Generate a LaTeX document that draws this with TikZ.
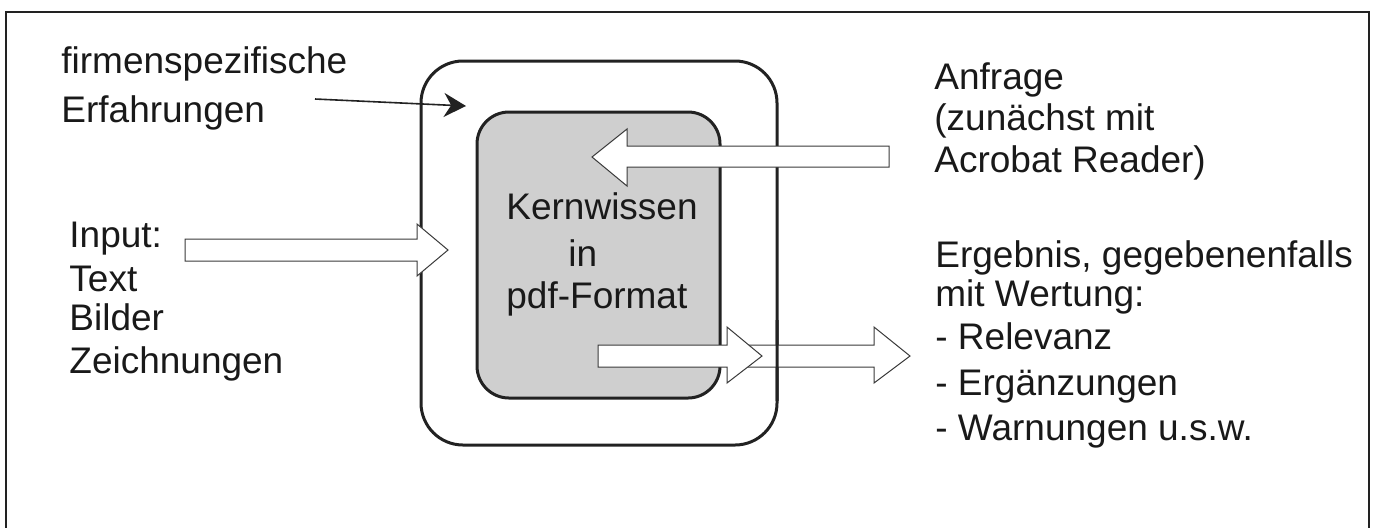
\documentclass[tikz,border=0pt]{standalone}
\usepackage{fontspec}
\setmainfont{Liberation Sans}
\usetikzlibrary{arrows.meta}
\definecolor{framegray}{HTML}{222222}
\definecolor{kerngray}{HTML}{CFCFCF}
\definecolor{arrowline}{HTML}{3A3A3A}
\begin{document}
\begin{tikzpicture}[x=0.5pt,y=-0.5pt,
  lbl/.style={anchor=base west,inner sep=0pt,font=\fontsize{18.5pt}{21pt}\selectfont,text=black!90},
  boxline/.style={line width=1.5pt,draw=framegray},
  blockarrow/.style={fill=white,draw=arrowline,line width=0.5pt,line join=miter},
  pointer/.style={line width=0.8pt,draw=framegray,-{Stealth[length=11pt,width=12pt]}}
]
\useasboundingbox (0,0) rectangle (1374,527);
% outer frame (bottom edge outside the picture)
\draw[line width=1.2pt,draw=framegray] (6,540) -- (6,12) -- (1369,12) -- (1369,540);

% outer rounded box
\path[boxline,fill=white,rounded corners=21pt] (421,61) rectangle (777,445);
% inner grey box
\path[boxline,fill=kerngray,rounded corners=16pt] (477,112) rectangle (720,398);

% Anfrage arrow (pointing left)
\coordinate (aq) at (889,146);
\draw[blockarrow] (889,146) -- (627,146) -- (627,129) -- (592,157) -- (627,186) -- (627,167) -- (889,167) -- cycle;

% Input arrow
\draw[blockarrow] (185,239) -- (417,239) -- (417,224) -- (448,250) -- (417,276) -- (417,261) -- (185,261) -- cycle;

% output arrow 2 (behind)
\draw[blockarrow] (740,345) -- (874,345) -- (874,327) -- (910,356) -- (874,383) -- (874,367) -- (740,367) -- cycle;
% outer box line passing over arrow 2
\begin{scope}
\clip (765,320) rectangle (800,400);
\path[boxline,rounded corners=21pt] (421,61) rectangle (777,445);
\end{scope}
% output arrow 1 (front)
\draw[blockarrow] (598,345) -- (727,345) -- (727,327) -- (762,356) -- (727,383) -- (727,367) -- (598,367) -- cycle;

% pointer arrow
\coordinate (ps) at (315,99);
\coordinate (pe) at (466,106);
\draw[pointer] (ps) -- (pe);

% texts
\node[lbl] (t1) at (61,73) {firmenspezifische};
\node[lbl] (t2) at (61,122) {Erfahrungen};

\node[lbl] (i1) at (69,247) {Input:};
\node[lbl] (i2) at (69,291) {Text};
\node[lbl] (i3) at (69,330) {Bilder};
\node[lbl] (i4) at (69,373) {Zeichnungen};

\node[lbl] (a1) at (934,89) {Anfrage};
\node[lbl] (a2) at (934,130) {(zunächst mit};
\node[lbl] (a3) at (934,172) {Acrobat Reader)};

\node[lbl] (k1) at (506,219) {Kernwissen};
\node[lbl] (k2) at (568,266) {in};
\node[lbl] (k3) at (506,308) {pdf-Format};

\node[lbl] (e1) at (935,267) {Ergebnis, gegebenenfalls};
\node[lbl] (e2) at (935,306) {mit Wertung:};
\node[lbl] (e3) at (935,349) {- Relevanz};
\node[lbl] (e4) at (935,395) {- Ergänzungen};
\node[lbl] (e5) at (935,440) {- Warnungen u.s.w.};
\end{tikzpicture}
\end{document}
